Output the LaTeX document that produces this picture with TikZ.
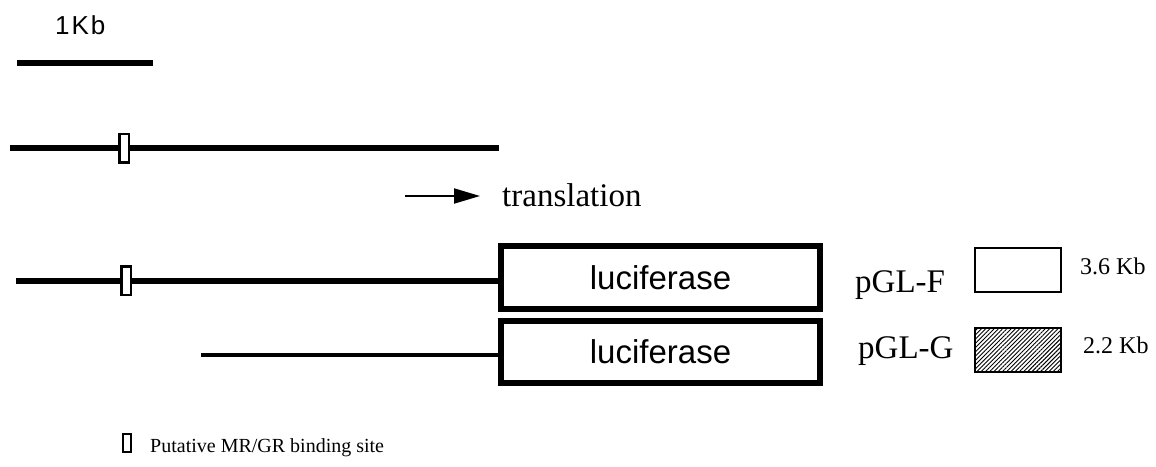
\documentclass[tikz,border=0pt]{standalone}
\usepackage{fontspec}
\setmainfont{Liberation Serif}
\setsansfont{Liberation Sans}
\usetikzlibrary{arrows.meta,patterns.meta}
\begin{document}
\begin{tikzpicture}[x=1pt,y=-1pt,
  dna/.style={line width=6pt},
  thindna/.style={line width=3.5pt},
  site/.style={draw,fill=white,line width=2.5pt,minimum width=9.5pt,minimum height=28.5pt,inner sep=0pt},
  lucbox/.style={draw,line width=6pt,minimum width=319pt,minimum height=63pt,inner sep=0pt,
    font=\sffamily\fontsize{33}{36}\selectfont},
  legbox/.style={draw,line width=2.8pt,minimum width=86pt,minimum height=44pt,inner sep=0pt},
  label/.style={anchor=base west,inner sep=0pt},
  big/.style={font=\fontsize{33}{36}\selectfont},
  size/.style={font=\fontsize{24}{27}\selectfont}]
\useasboundingbox (0,0) rectangle (1156,466);

% scale bar
\node[label,font=\sffamily\fontsize{26}{28}\selectfont] (kb) at (55,34) {1\hspace{2pt}K\hspace{2pt}b};
\coordinate (s0) at (17,63);
\coordinate (s1) at (153,63);
\draw[line width=5.5pt] (s0) -- (s1);

% genomic fragment
\coordinate (g0) at (10,148);
\coordinate (g1) at (499,148);
\draw[dna] (g0) -- (g1);
\node[site] (site1) at (124,148) {};

% direction of translation
\coordinate (a0) at (405,196);
\coordinate (a1) at (480,196);
\draw[line width=2pt,-{Triangle[length=26pt,width=15pt]}] (a0) -- (a1);
\node[label,big] (tr) at (502,206) {translation};

% reporter constructs
\node[lucbox] (lucF) at (660.5,277.5) {luciferase};
\node[lucbox,minimum height=62pt] (lucG) at (660.5,351.5) {luciferase};

\coordinate (f0) at (16,281);
\draw[dna] (f0) -- (f0 -| lucF.west);
\node[site] (site2) at (126,280.5) {};

\coordinate (h0) at (201,355);
\draw[thindna] (h0) -- (h0 -| lucG.west);

\node[label,big] (pF) at (855,292) {pGL-F};
\node[label,big] (pG) at (858,358) {pGL-G};

% size legend
\node[legbox] (bF) at (1018,270) {};
\node[legbox,pattern={Lines[angle=45,distance=3pt,line width=0.9pt]}] (bG) at (1018,350) {};
\node[label,size] (zF) at (1080,274) {3.6 Kb};
\node[label,size] (zG) at (1083,353) {2.2 Kb};

% symbol legend
\node[draw,line width=2.5pt,minimum width=8pt,minimum height=18pt,inner sep=0pt] (key) at (127,443) {};
\node[label,font=\fontsize{20}{23}\selectfont] (keytext) at (150,452) {Putative MR/GR binding site};
\end{tikzpicture}
\end{document}
